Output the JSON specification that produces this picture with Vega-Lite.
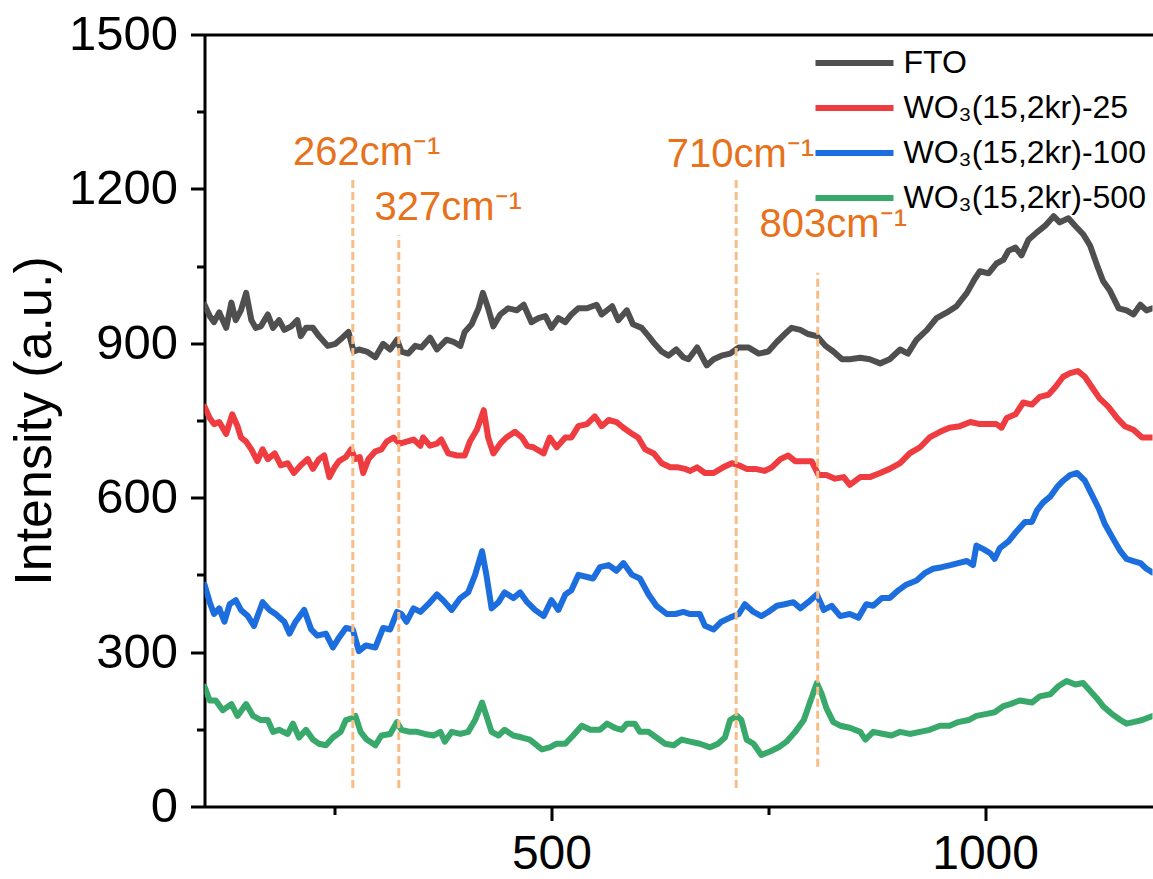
{
  "$schema": "https://vega.github.io/schema/vega-lite/v6.json",
  "width": 948,
  "height": 772,
  "autosize": {"type": "none"},
  "padding": {"left": 204.5, "top": 34.5, "right": 0.5, "bottom": 72.5},
  "background": "white",
  "config": {"view": {"stroke": null}, "font": "Liberation Sans"},
  "datasets": {
    "spectra": [
      {"s":"FTO","x":100,"y":975},{"s":"FTO","x":106,"y":953},{"s":"FTO","x":111,"y":941},{"s":"FTO","x":117,"y":960},{"s":"FTO","x":125,"y":930},{"s":"FTO","x":131,"y":979},{"s":"FTO","x":136,"y":945},{"s":"FTO","x":142,"y":964},{"s":"FTO","x":148,"y":998},{"s":"FTO","x":154,"y":945},{"s":"FTO","x":159,"y":930},{"s":"FTO","x":165,"y":933},{"s":"FTO","x":173,"y":956},{"s":"FTO","x":179,"y":930},{"s":"FTO","x":186,"y":945},{"s":"FTO","x":192,"y":926},{"s":"FTO","x":200,"y":933},{"s":"FTO","x":207,"y":945},{"s":"FTO","x":211,"y":914},{"s":"FTO","x":217,"y":930},{"s":"FTO","x":225,"y":930},{"s":"FTO","x":232,"y":914},{"s":"FTO","x":242,"y":895},{"s":"FTO","x":251,"y":899},{"s":"FTO","x":259,"y":911},{"s":"FTO","x":266,"y":922},{"s":"FTO","x":272,"y":884},{"s":"FTO","x":278,"y":888},{"s":"FTO","x":287,"y":884},{"s":"FTO","x":297,"y":873},{"s":"FTO","x":306,"y":899},{"s":"FTO","x":314,"y":888},{"s":"FTO","x":322,"y":907},{"s":"FTO","x":327,"y":884},{"s":"FTO","x":335,"y":880},{"s":"FTO","x":343,"y":895},{"s":"FTO","x":350,"y":892},{"s":"FTO","x":360,"y":911},{"s":"FTO","x":368,"y":888},{"s":"FTO","x":379,"y":907},{"s":"FTO","x":387,"y":903},{"s":"FTO","x":395,"y":895},{"s":"FTO","x":400,"y":922},{"s":"FTO","x":408,"y":937},{"s":"FTO","x":416,"y":968},{"s":"FTO","x":421,"y":998},{"s":"FTO","x":427,"y":968},{"s":"FTO","x":433,"y":933},{"s":"FTO","x":441,"y":956},{"s":"FTO","x":450,"y":968},{"s":"FTO","x":460,"y":964},{"s":"FTO","x":468,"y":975},{"s":"FTO","x":477,"y":941},{"s":"FTO","x":485,"y":949},{"s":"FTO","x":493,"y":953},{"s":"FTO","x":500,"y":930},{"s":"FTO","x":508,"y":949},{"s":"FTO","x":516,"y":941},{"s":"FTO","x":523,"y":956},{"s":"FTO","x":531,"y":968},{"s":"FTO","x":541,"y":968},{"s":"FTO","x":552,"y":975},{"s":"FTO","x":558,"y":956},{"s":"FTO","x":570,"y":972},{"s":"FTO","x":577,"y":945},{"s":"FTO","x":587,"y":964},{"s":"FTO","x":594,"y":937},{"s":"FTO","x":604,"y":930},{"s":"FTO","x":612,"y":914},{"s":"FTO","x":619,"y":899},{"s":"FTO","x":627,"y":884},{"s":"FTO","x":635,"y":876},{"s":"FTO","x":644,"y":888},{"s":"FTO","x":652,"y":873},{"s":"FTO","x":658,"y":869},{"s":"FTO","x":668,"y":892},{"s":"FTO","x":679,"y":857},{"s":"FTO","x":687,"y":869},{"s":"FTO","x":696,"y":876},{"s":"FTO","x":706,"y":880},{"s":"FTO","x":716,"y":892},{"s":"FTO","x":727,"y":892},{"s":"FTO","x":739,"y":880},{"s":"FTO","x":750,"y":884},{"s":"FTO","x":760,"y":903},{"s":"FTO","x":769,"y":918},{"s":"FTO","x":777,"y":930},{"s":"FTO","x":787,"y":926},{"s":"FTO","x":796,"y":918},{"s":"FTO","x":806,"y":914},{"s":"FTO","x":816,"y":895},{"s":"FTO","x":825,"y":884},{"s":"FTO","x":835,"y":869},{"s":"FTO","x":844,"y":869},{"s":"FTO","x":856,"y":872},{"s":"FTO","x":867,"y":869},{"s":"FTO","x":879,"y":861},{"s":"FTO","x":890,"y":869},{"s":"FTO","x":902,"y":888},{"s":"FTO","x":911,"y":880},{"s":"FTO","x":921,"y":907},{"s":"FTO","x":933,"y":926},{"s":"FTO","x":944,"y":949},{"s":"FTO","x":956,"y":960},{"s":"FTO","x":967,"y":972},{"s":"FTO","x":979,"y":998},{"s":"FTO","x":988,"y":1025},{"s":"FTO","x":994,"y":1040},{"s":"FTO","x":1004,"y":1036},{"s":"FTO","x":1013,"y":1055},{"s":"FTO","x":1021,"y":1062},{"s":"FTO","x":1027,"y":1080},{"s":"FTO","x":1035,"y":1086},{"s":"FTO","x":1042,"y":1071},{"s":"FTO","x":1050,"y":1101},{"s":"FTO","x":1060,"y":1116},{"s":"FTO","x":1069,"y":1128},{"s":"FTO","x":1079,"y":1147},{"s":"FTO","x":1086,"y":1135},{"s":"FTO","x":1096,"y":1143},{"s":"FTO","x":1104,"y":1128},{"s":"FTO","x":1113,"y":1112},{"s":"FTO","x":1121,"y":1090},{"s":"FTO","x":1129,"y":1052},{"s":"FTO","x":1136,"y":1021},{"s":"FTO","x":1144,"y":1002},{"s":"FTO","x":1154,"y":968},{"s":"FTO","x":1163,"y":964},{"s":"FTO","x":1171,"y":956},{"s":"FTO","x":1179,"y":975},{"s":"FTO","x":1186,"y":964},{"s":"FTO","x":1193,"y":968},

      {"s":"WO\u2083(15,2kr)-25","x":100,"y":777},{"s":"WO\u2083(15,2kr)-25","x":106,"y":755},{"s":"WO\u2083(15,2kr)-25","x":111,"y":743},{"s":"WO\u2083(15,2kr)-25","x":117,"y":747},{"s":"WO\u2083(15,2kr)-25","x":125,"y":724},{"s":"WO\u2083(15,2kr)-25","x":132,"y":762},{"s":"WO\u2083(15,2kr)-25","x":138,"y":739},{"s":"WO\u2083(15,2kr)-25","x":142,"y":717},{"s":"WO\u2083(15,2kr)-25","x":148,"y":709},{"s":"WO\u2083(15,2kr)-25","x":154,"y":694},{"s":"WO\u2083(15,2kr)-25","x":161,"y":671},{"s":"WO\u2083(15,2kr)-25","x":167,"y":694},{"s":"WO\u2083(15,2kr)-25","x":173,"y":675},{"s":"WO\u2083(15,2kr)-25","x":181,"y":686},{"s":"WO\u2083(15,2kr)-25","x":188,"y":663},{"s":"WO\u2083(15,2kr)-25","x":196,"y":667},{"s":"WO\u2083(15,2kr)-25","x":203,"y":648},{"s":"WO\u2083(15,2kr)-25","x":211,"y":663},{"s":"WO\u2083(15,2kr)-25","x":219,"y":675},{"s":"WO\u2083(15,2kr)-25","x":225,"y":656},{"s":"WO\u2083(15,2kr)-25","x":232,"y":675},{"s":"WO\u2083(15,2kr)-25","x":238,"y":682},{"s":"WO\u2083(15,2kr)-25","x":244,"y":640},{"s":"WO\u2083(15,2kr)-25","x":250,"y":659},{"s":"WO\u2083(15,2kr)-25","x":255,"y":671},{"s":"WO\u2083(15,2kr)-25","x":263,"y":679},{"s":"WO\u2083(15,2kr)-25","x":269,"y":694},{"s":"WO\u2083(15,2kr)-25","x":274,"y":675},{"s":"WO\u2083(15,2kr)-25","x":279,"y":679},{"s":"WO\u2083(15,2kr)-25","x":283,"y":648},{"s":"WO\u2083(15,2kr)-25","x":289,"y":675},{"s":"WO\u2083(15,2kr)-25","x":297,"y":690},{"s":"WO\u2083(15,2kr)-25","x":304,"y":694},{"s":"WO\u2083(15,2kr)-25","x":310,"y":709},{"s":"WO\u2083(15,2kr)-25","x":318,"y":717},{"s":"WO\u2083(15,2kr)-25","x":325,"y":705},{"s":"WO\u2083(15,2kr)-25","x":333,"y":709},{"s":"WO\u2083(15,2kr)-25","x":341,"y":713},{"s":"WO\u2083(15,2kr)-25","x":349,"y":701},{"s":"WO\u2083(15,2kr)-25","x":352,"y":717},{"s":"WO\u2083(15,2kr)-25","x":360,"y":701},{"s":"WO\u2083(15,2kr)-25","x":368,"y":705},{"s":"WO\u2083(15,2kr)-25","x":373,"y":713},{"s":"WO\u2083(15,2kr)-25","x":381,"y":686},{"s":"WO\u2083(15,2kr)-25","x":391,"y":682},{"s":"WO\u2083(15,2kr)-25","x":400,"y":682},{"s":"WO\u2083(15,2kr)-25","x":406,"y":709},{"s":"WO\u2083(15,2kr)-25","x":414,"y":732},{"s":"WO\u2083(15,2kr)-25","x":422,"y":770},{"s":"WO\u2083(15,2kr)-25","x":427,"y":717},{"s":"WO\u2083(15,2kr)-25","x":433,"y":686},{"s":"WO\u2083(15,2kr)-25","x":441,"y":705},{"s":"WO\u2083(15,2kr)-25","x":448,"y":717},{"s":"WO\u2083(15,2kr)-25","x":458,"y":728},{"s":"WO\u2083(15,2kr)-25","x":466,"y":717},{"s":"WO\u2083(15,2kr)-25","x":472,"y":701},{"s":"WO\u2083(15,2kr)-25","x":479,"y":698},{"s":"WO\u2083(15,2kr)-25","x":491,"y":686},{"s":"WO\u2083(15,2kr)-25","x":498,"y":717},{"s":"WO\u2083(15,2kr)-25","x":506,"y":698},{"s":"WO\u2083(15,2kr)-25","x":516,"y":717},{"s":"WO\u2083(15,2kr)-25","x":523,"y":717},{"s":"WO\u2083(15,2kr)-25","x":531,"y":739},{"s":"WO\u2083(15,2kr)-25","x":541,"y":743},{"s":"WO\u2083(15,2kr)-25","x":550,"y":758},{"s":"WO\u2083(15,2kr)-25","x":558,"y":739},{"s":"WO\u2083(15,2kr)-25","x":566,"y":751},{"s":"WO\u2083(15,2kr)-25","x":575,"y":747},{"s":"WO\u2083(15,2kr)-25","x":583,"y":736},{"s":"WO\u2083(15,2kr)-25","x":593,"y":724},{"s":"WO\u2083(15,2kr)-25","x":600,"y":717},{"s":"WO\u2083(15,2kr)-25","x":608,"y":694},{"s":"WO\u2083(15,2kr)-25","x":618,"y":686},{"s":"WO\u2083(15,2kr)-25","x":627,"y":667},{"s":"WO\u2083(15,2kr)-25","x":637,"y":659},{"s":"WO\u2083(15,2kr)-25","x":646,"y":659},{"s":"WO\u2083(15,2kr)-25","x":654,"y":656},{"s":"WO\u2083(15,2kr)-25","x":660,"y":652},{"s":"WO\u2083(15,2kr)-25","x":668,"y":659},{"s":"WO\u2083(15,2kr)-25","x":677,"y":648},{"s":"WO\u2083(15,2kr)-25","x":687,"y":648},{"s":"WO\u2083(15,2kr)-25","x":698,"y":659},{"s":"WO\u2083(15,2kr)-25","x":708,"y":667},{"s":"WO\u2083(15,2kr)-25","x":716,"y":663},{"s":"WO\u2083(15,2kr)-25","x":725,"y":656},{"s":"WO\u2083(15,2kr)-25","x":735,"y":656},{"s":"WO\u2083(15,2kr)-25","x":746,"y":652},{"s":"WO\u2083(15,2kr)-25","x":754,"y":659},{"s":"WO\u2083(15,2kr)-25","x":764,"y":675},{"s":"WO\u2083(15,2kr)-25","x":773,"y":682},{"s":"WO\u2083(15,2kr)-25","x":781,"y":671},{"s":"WO\u2083(15,2kr)-25","x":791,"y":671},{"s":"WO\u2083(15,2kr)-25","x":800,"y":671},{"s":"WO\u2083(15,2kr)-25","x":808,"y":644},{"s":"WO\u2083(15,2kr)-25","x":817,"y":644},{"s":"WO\u2083(15,2kr)-25","x":827,"y":637},{"s":"WO\u2083(15,2kr)-25","x":837,"y":640},{"s":"WO\u2083(15,2kr)-25","x":844,"y":625},{"s":"WO\u2083(15,2kr)-25","x":856,"y":640},{"s":"WO\u2083(15,2kr)-25","x":867,"y":640},{"s":"WO\u2083(15,2kr)-25","x":879,"y":648},{"s":"WO\u2083(15,2kr)-25","x":890,"y":656},{"s":"WO\u2083(15,2kr)-25","x":902,"y":667},{"s":"WO\u2083(15,2kr)-25","x":913,"y":686},{"s":"WO\u2083(15,2kr)-25","x":925,"y":698},{"s":"WO\u2083(15,2kr)-25","x":936,"y":717},{"s":"WO\u2083(15,2kr)-25","x":948,"y":728},{"s":"WO\u2083(15,2kr)-25","x":959,"y":736},{"s":"WO\u2083(15,2kr)-25","x":971,"y":739},{"s":"WO\u2083(15,2kr)-25","x":983,"y":747},{"s":"WO\u2083(15,2kr)-25","x":994,"y":743},{"s":"WO\u2083(15,2kr)-25","x":1004,"y":743},{"s":"WO\u2083(15,2kr)-25","x":1013,"y":743},{"s":"WO\u2083(15,2kr)-25","x":1019,"y":736},{"s":"WO\u2083(15,2kr)-25","x":1025,"y":755},{"s":"WO\u2083(15,2kr)-25","x":1035,"y":762},{"s":"WO\u2083(15,2kr)-25","x":1044,"y":785},{"s":"WO\u2083(15,2kr)-25","x":1054,"y":781},{"s":"WO\u2083(15,2kr)-25","x":1063,"y":796},{"s":"WO\u2083(15,2kr)-25","x":1073,"y":800},{"s":"WO\u2083(15,2kr)-25","x":1081,"y":815},{"s":"WO\u2083(15,2kr)-25","x":1090,"y":835},{"s":"WO\u2083(15,2kr)-25","x":1098,"y":842},{"s":"WO\u2083(15,2kr)-25","x":1107,"y":846},{"s":"WO\u2083(15,2kr)-25","x":1115,"y":835},{"s":"WO\u2083(15,2kr)-25","x":1123,"y":815},{"s":"WO\u2083(15,2kr)-25","x":1132,"y":793},{"s":"WO\u2083(15,2kr)-25","x":1142,"y":777},{"s":"WO\u2083(15,2kr)-25","x":1152,"y":755},{"s":"WO\u2083(15,2kr)-25","x":1161,"y":739},{"s":"WO\u2083(15,2kr)-25","x":1171,"y":732},{"s":"WO\u2083(15,2kr)-25","x":1181,"y":717},{"s":"WO\u2083(15,2kr)-25","x":1193,"y":717},

      {"s":"WO\u2083(15,2kr)-100","x":100,"y":431},{"s":"WO\u2083(15,2kr)-100","x":106,"y":397},{"s":"WO\u2083(15,2kr)-100","x":111,"y":374},{"s":"WO\u2083(15,2kr)-100","x":117,"y":385},{"s":"WO\u2083(15,2kr)-100","x":123,"y":359},{"s":"WO\u2083(15,2kr)-100","x":129,"y":393},{"s":"WO\u2083(15,2kr)-100","x":136,"y":401},{"s":"WO\u2083(15,2kr)-100","x":142,"y":382},{"s":"WO\u2083(15,2kr)-100","x":150,"y":370},{"s":"WO\u2083(15,2kr)-100","x":157,"y":351},{"s":"WO\u2083(15,2kr)-100","x":167,"y":397},{"s":"WO\u2083(15,2kr)-100","x":175,"y":382},{"s":"WO\u2083(15,2kr)-100","x":182,"y":374},{"s":"WO\u2083(15,2kr)-100","x":192,"y":359},{"s":"WO\u2083(15,2kr)-100","x":198,"y":336},{"s":"WO\u2083(15,2kr)-100","x":205,"y":359},{"s":"WO\u2083(15,2kr)-100","x":215,"y":382},{"s":"WO\u2083(15,2kr)-100","x":223,"y":344},{"s":"WO\u2083(15,2kr)-100","x":230,"y":332},{"s":"WO\u2083(15,2kr)-100","x":240,"y":336},{"s":"WO\u2083(15,2kr)-100","x":248,"y":309},{"s":"WO\u2083(15,2kr)-100","x":255,"y":328},{"s":"WO\u2083(15,2kr)-100","x":263,"y":347},{"s":"WO\u2083(15,2kr)-100","x":271,"y":344},{"s":"WO\u2083(15,2kr)-100","x":278,"y":302},{"s":"WO\u2083(15,2kr)-100","x":286,"y":313},{"s":"WO\u2083(15,2kr)-100","x":297,"y":309},{"s":"WO\u2083(15,2kr)-100","x":306,"y":347},{"s":"WO\u2083(15,2kr)-100","x":314,"y":344},{"s":"WO\u2083(15,2kr)-100","x":322,"y":378},{"s":"WO\u2083(15,2kr)-100","x":327,"y":374},{"s":"WO\u2083(15,2kr)-100","x":333,"y":359},{"s":"WO\u2083(15,2kr)-100","x":341,"y":385},{"s":"WO\u2083(15,2kr)-100","x":349,"y":378},{"s":"WO\u2083(15,2kr)-100","x":358,"y":393},{"s":"WO\u2083(15,2kr)-100","x":368,"y":412},{"s":"WO\u2083(15,2kr)-100","x":375,"y":401},{"s":"WO\u2083(15,2kr)-100","x":385,"y":382},{"s":"WO\u2083(15,2kr)-100","x":395,"y":405},{"s":"WO\u2083(15,2kr)-100","x":404,"y":416},{"s":"WO\u2083(15,2kr)-100","x":412,"y":450},{"s":"WO\u2083(15,2kr)-100","x":420,"y":496},{"s":"WO\u2083(15,2kr)-100","x":425,"y":450},{"s":"WO\u2083(15,2kr)-100","x":431,"y":385},{"s":"WO\u2083(15,2kr)-100","x":439,"y":397},{"s":"WO\u2083(15,2kr)-100","x":446,"y":416},{"s":"WO\u2083(15,2kr)-100","x":456,"y":405},{"s":"WO\u2083(15,2kr)-100","x":464,"y":416},{"s":"WO\u2083(15,2kr)-100","x":472,"y":397},{"s":"WO\u2083(15,2kr)-100","x":481,"y":382},{"s":"WO\u2083(15,2kr)-100","x":491,"y":370},{"s":"WO\u2083(15,2kr)-100","x":500,"y":401},{"s":"WO\u2083(15,2kr)-100","x":508,"y":382},{"s":"WO\u2083(15,2kr)-100","x":516,"y":412},{"s":"WO\u2083(15,2kr)-100","x":523,"y":420},{"s":"WO\u2083(15,2kr)-100","x":531,"y":450},{"s":"WO\u2083(15,2kr)-100","x":541,"y":446},{"s":"WO\u2083(15,2kr)-100","x":548,"y":443},{"s":"WO\u2083(15,2kr)-100","x":556,"y":465},{"s":"WO\u2083(15,2kr)-100","x":566,"y":469},{"s":"WO\u2083(15,2kr)-100","x":575,"y":458},{"s":"WO\u2083(15,2kr)-100","x":583,"y":473},{"s":"WO\u2083(15,2kr)-100","x":593,"y":450},{"s":"WO\u2083(15,2kr)-100","x":602,"y":443},{"s":"WO\u2083(15,2kr)-100","x":612,"y":412},{"s":"WO\u2083(15,2kr)-100","x":621,"y":390},{"s":"WO\u2083(15,2kr)-100","x":633,"y":374},{"s":"WO\u2083(15,2kr)-100","x":643,"y":374},{"s":"WO\u2083(15,2kr)-100","x":652,"y":378},{"s":"WO\u2083(15,2kr)-100","x":660,"y":374},{"s":"WO\u2083(15,2kr)-100","x":671,"y":374},{"s":"WO\u2083(15,2kr)-100","x":677,"y":351},{"s":"WO\u2083(15,2kr)-100","x":687,"y":344},{"s":"WO\u2083(15,2kr)-100","x":696,"y":359},{"s":"WO\u2083(15,2kr)-100","x":706,"y":367},{"s":"WO\u2083(15,2kr)-100","x":716,"y":374},{"s":"WO\u2083(15,2kr)-100","x":723,"y":393},{"s":"WO\u2083(15,2kr)-100","x":733,"y":378},{"s":"WO\u2083(15,2kr)-100","x":742,"y":370},{"s":"WO\u2083(15,2kr)-100","x":750,"y":378},{"s":"WO\u2083(15,2kr)-100","x":760,"y":390},{"s":"WO\u2083(15,2kr)-100","x":769,"y":393},{"s":"WO\u2083(15,2kr)-100","x":779,"y":397},{"s":"WO\u2083(15,2kr)-100","x":787,"y":385},{"s":"WO\u2083(15,2kr)-100","x":796,"y":397},{"s":"WO\u2083(15,2kr)-100","x":806,"y":412},{"s":"WO\u2083(15,2kr)-100","x":814,"y":382},{"s":"WO\u2083(15,2kr)-100","x":823,"y":390},{"s":"WO\u2083(15,2kr)-100","x":833,"y":370},{"s":"WO\u2083(15,2kr)-100","x":844,"y":374},{"s":"WO\u2083(15,2kr)-100","x":854,"y":367},{"s":"WO\u2083(15,2kr)-100","x":863,"y":393},{"s":"WO\u2083(15,2kr)-100","x":871,"y":390},{"s":"WO\u2083(15,2kr)-100","x":881,"y":405},{"s":"WO\u2083(15,2kr)-100","x":890,"y":405},{"s":"WO\u2083(15,2kr)-100","x":900,"y":420},{"s":"WO\u2083(15,2kr)-100","x":909,"y":431},{"s":"WO\u2083(15,2kr)-100","x":921,"y":439},{"s":"WO\u2083(15,2kr)-100","x":931,"y":454},{"s":"WO\u2083(15,2kr)-100","x":940,"y":462},{"s":"WO\u2083(15,2kr)-100","x":950,"y":465},{"s":"WO\u2083(15,2kr)-100","x":960,"y":469},{"s":"WO\u2083(15,2kr)-100","x":969,"y":473},{"s":"WO\u2083(15,2kr)-100","x":979,"y":477},{"s":"WO\u2083(15,2kr)-100","x":986,"y":469},{"s":"WO\u2083(15,2kr)-100","x":990,"y":507},{"s":"WO\u2083(15,2kr)-100","x":998,"y":500},{"s":"WO\u2083(15,2kr)-100","x":1006,"y":492},{"s":"WO\u2083(15,2kr)-100","x":1011,"y":481},{"s":"WO\u2083(15,2kr)-100","x":1017,"y":502},{"s":"WO\u2083(15,2kr)-100","x":1027,"y":515},{"s":"WO\u2083(15,2kr)-100","x":1036,"y":534},{"s":"WO\u2083(15,2kr)-100","x":1046,"y":553},{"s":"WO\u2083(15,2kr)-100","x":1054,"y":553},{"s":"WO\u2083(15,2kr)-100","x":1060,"y":576},{"s":"WO\u2083(15,2kr)-100","x":1067,"y":591},{"s":"WO\u2083(15,2kr)-100","x":1075,"y":602},{"s":"WO\u2083(15,2kr)-100","x":1083,"y":621},{"s":"WO\u2083(15,2kr)-100","x":1090,"y":633},{"s":"WO\u2083(15,2kr)-100","x":1098,"y":644},{"s":"WO\u2083(15,2kr)-100","x":1106,"y":648},{"s":"WO\u2083(15,2kr)-100","x":1115,"y":633},{"s":"WO\u2083(15,2kr)-100","x":1123,"y":606},{"s":"WO\u2083(15,2kr)-100","x":1131,"y":579},{"s":"WO\u2083(15,2kr)-100","x":1138,"y":549},{"s":"WO\u2083(15,2kr)-100","x":1148,"y":519},{"s":"WO\u2083(15,2kr)-100","x":1156,"y":496},{"s":"WO\u2083(15,2kr)-100","x":1163,"y":481},{"s":"WO\u2083(15,2kr)-100","x":1171,"y":477},{"s":"WO\u2083(15,2kr)-100","x":1179,"y":473},{"s":"WO\u2083(15,2kr)-100","x":1186,"y":462},{"s":"WO\u2083(15,2kr)-100","x":1193,"y":455},

      {"s":"WO\u2083(15,2kr)-500","x":100,"y":233},{"s":"WO\u2083(15,2kr)-500","x":106,"y":206},{"s":"WO\u2083(15,2kr)-500","x":113,"y":206},{"s":"WO\u2083(15,2kr)-500","x":121,"y":187},{"s":"WO\u2083(15,2kr)-500","x":131,"y":199},{"s":"WO\u2083(15,2kr)-500","x":138,"y":176},{"s":"WO\u2083(15,2kr)-500","x":148,"y":199},{"s":"WO\u2083(15,2kr)-500","x":156,"y":176},{"s":"WO\u2083(15,2kr)-500","x":165,"y":168},{"s":"WO\u2083(15,2kr)-500","x":173,"y":168},{"s":"WO\u2083(15,2kr)-500","x":179,"y":145},{"s":"WO\u2083(15,2kr)-500","x":186,"y":149},{"s":"WO\u2083(15,2kr)-500","x":196,"y":141},{"s":"WO\u2083(15,2kr)-500","x":202,"y":161},{"s":"WO\u2083(15,2kr)-500","x":209,"y":134},{"s":"WO\u2083(15,2kr)-500","x":217,"y":149},{"s":"WO\u2083(15,2kr)-500","x":225,"y":130},{"s":"WO\u2083(15,2kr)-500","x":232,"y":122},{"s":"WO\u2083(15,2kr)-500","x":240,"y":119},{"s":"WO\u2083(15,2kr)-500","x":248,"y":134},{"s":"WO\u2083(15,2kr)-500","x":257,"y":145},{"s":"WO\u2083(15,2kr)-500","x":263,"y":168},{"s":"WO\u2083(15,2kr)-500","x":271,"y":172},{"s":"WO\u2083(15,2kr)-500","x":274,"y":176},{"s":"WO\u2083(15,2kr)-500","x":280,"y":145},{"s":"WO\u2083(15,2kr)-500","x":287,"y":130},{"s":"WO\u2083(15,2kr)-500","x":297,"y":119},{"s":"WO\u2083(15,2kr)-500","x":304,"y":138},{"s":"WO\u2083(15,2kr)-500","x":314,"y":141},{"s":"WO\u2083(15,2kr)-500","x":322,"y":164},{"s":"WO\u2083(15,2kr)-500","x":327,"y":149},{"s":"WO\u2083(15,2kr)-500","x":337,"y":145},{"s":"WO\u2083(15,2kr)-500","x":345,"y":145},{"s":"WO\u2083(15,2kr)-500","x":354,"y":141},{"s":"WO\u2083(15,2kr)-500","x":364,"y":138},{"s":"WO\u2083(15,2kr)-500","x":372,"y":145},{"s":"WO\u2083(15,2kr)-500","x":377,"y":126},{"s":"WO\u2083(15,2kr)-500","x":385,"y":145},{"s":"WO\u2083(15,2kr)-500","x":395,"y":141},{"s":"WO\u2083(15,2kr)-500","x":404,"y":145},{"s":"WO\u2083(15,2kr)-500","x":412,"y":168},{"s":"WO\u2083(15,2kr)-500","x":420,"y":202},{"s":"WO\u2083(15,2kr)-500","x":425,"y":176},{"s":"WO\u2083(15,2kr)-500","x":431,"y":145},{"s":"WO\u2083(15,2kr)-500","x":439,"y":138},{"s":"WO\u2083(15,2kr)-500","x":446,"y":149},{"s":"WO\u2083(15,2kr)-500","x":456,"y":138},{"s":"WO\u2083(15,2kr)-500","x":466,"y":134},{"s":"WO\u2083(15,2kr)-500","x":475,"y":130},{"s":"WO\u2083(15,2kr)-500","x":489,"y":111},{"s":"WO\u2083(15,2kr)-500","x":498,"y":115},{"s":"WO\u2083(15,2kr)-500","x":506,"y":122},{"s":"WO\u2083(15,2kr)-500","x":516,"y":122},{"s":"WO\u2083(15,2kr)-500","x":525,"y":138},{"s":"WO\u2083(15,2kr)-500","x":535,"y":157},{"s":"WO\u2083(15,2kr)-500","x":545,"y":149},{"s":"WO\u2083(15,2kr)-500","x":556,"y":149},{"s":"WO\u2083(15,2kr)-500","x":564,"y":161},{"s":"WO\u2083(15,2kr)-500","x":573,"y":153},{"s":"WO\u2083(15,2kr)-500","x":581,"y":149},{"s":"WO\u2083(15,2kr)-500","x":587,"y":161},{"s":"WO\u2083(15,2kr)-500","x":596,"y":161},{"s":"WO\u2083(15,2kr)-500","x":602,"y":145},{"s":"WO\u2083(15,2kr)-500","x":612,"y":145},{"s":"WO\u2083(15,2kr)-500","x":621,"y":134},{"s":"WO\u2083(15,2kr)-500","x":631,"y":122},{"s":"WO\u2083(15,2kr)-500","x":641,"y":119},{"s":"WO\u2083(15,2kr)-500","x":650,"y":130},{"s":"WO\u2083(15,2kr)-500","x":660,"y":126},{"s":"WO\u2083(15,2kr)-500","x":671,"y":122},{"s":"WO\u2083(15,2kr)-500","x":683,"y":115},{"s":"WO\u2083(15,2kr)-500","x":692,"y":122},{"s":"WO\u2083(15,2kr)-500","x":700,"y":134},{"s":"WO\u2083(15,2kr)-500","x":706,"y":168},{"s":"WO\u2083(15,2kr)-500","x":714,"y":176},{"s":"WO\u2083(15,2kr)-500","x":719,"y":168},{"s":"WO\u2083(15,2kr)-500","x":725,"y":130},{"s":"WO\u2083(15,2kr)-500","x":733,"y":122},{"s":"WO\u2083(15,2kr)-500","x":742,"y":100},{"s":"WO\u2083(15,2kr)-500","x":752,"y":107},{"s":"WO\u2083(15,2kr)-500","x":762,"y":115},{"s":"WO\u2083(15,2kr)-500","x":771,"y":126},{"s":"WO\u2083(15,2kr)-500","x":781,"y":145},{"s":"WO\u2083(15,2kr)-500","x":791,"y":168},{"s":"WO\u2083(15,2kr)-500","x":798,"y":202},{"s":"WO\u2083(15,2kr)-500","x":806,"y":240},{"s":"WO\u2083(15,2kr)-500","x":812,"y":217},{"s":"WO\u2083(15,2kr)-500","x":817,"y":191},{"s":"WO\u2083(15,2kr)-500","x":825,"y":164},{"s":"WO\u2083(15,2kr)-500","x":833,"y":157},{"s":"WO\u2083(15,2kr)-500","x":844,"y":153},{"s":"WO\u2083(15,2kr)-500","x":856,"y":145},{"s":"WO\u2083(15,2kr)-500","x":862,"y":130},{"s":"WO\u2083(15,2kr)-500","x":871,"y":145},{"s":"WO\u2083(15,2kr)-500","x":883,"y":141},{"s":"WO\u2083(15,2kr)-500","x":892,"y":138},{"s":"WO\u2083(15,2kr)-500","x":902,"y":145},{"s":"WO\u2083(15,2kr)-500","x":913,"y":141},{"s":"WO\u2083(15,2kr)-500","x":925,"y":145},{"s":"WO\u2083(15,2kr)-500","x":936,"y":149},{"s":"WO\u2083(15,2kr)-500","x":948,"y":157},{"s":"WO\u2083(15,2kr)-500","x":959,"y":157},{"s":"WO\u2083(15,2kr)-500","x":969,"y":164},{"s":"WO\u2083(15,2kr)-500","x":981,"y":168},{"s":"WO\u2083(15,2kr)-500","x":990,"y":176},{"s":"WO\u2083(15,2kr)-500","x":1002,"y":180},{"s":"WO\u2083(15,2kr)-500","x":1011,"y":183},{"s":"WO\u2083(15,2kr)-500","x":1021,"y":195},{"s":"WO\u2083(15,2kr)-500","x":1029,"y":199},{"s":"WO\u2083(15,2kr)-500","x":1040,"y":206},{"s":"WO\u2083(15,2kr)-500","x":1054,"y":202},{"s":"WO\u2083(15,2kr)-500","x":1063,"y":214},{"s":"WO\u2083(15,2kr)-500","x":1075,"y":218},{"s":"WO\u2083(15,2kr)-500","x":1084,"y":233},{"s":"WO\u2083(15,2kr)-500","x":1094,"y":244},{"s":"WO\u2083(15,2kr)-500","x":1104,"y":237},{"s":"WO\u2083(15,2kr)-500","x":1113,"y":240},{"s":"WO\u2083(15,2kr)-500","x":1121,"y":225},{"s":"WO\u2083(15,2kr)-500","x":1129,"y":210},{"s":"WO\u2083(15,2kr)-500","x":1136,"y":195},{"s":"WO\u2083(15,2kr)-500","x":1146,"y":180},{"s":"WO\u2083(15,2kr)-500","x":1156,"y":168},{"s":"WO\u2083(15,2kr)-500","x":1163,"y":161},{"s":"WO\u2083(15,2kr)-500","x":1171,"y":164},{"s":"WO\u2083(15,2kr)-500","x":1181,"y":168},{"s":"WO\u2083(15,2kr)-500","x":1193,"y":176}
    ],
    "peaks": [
      {"lab": "262cm\u207b\u00b9", "x": 271, "y": 36, "y2": 1221, "tx": 202, "ty": 1246},
      {"lab": "327cm\u207b\u00b9", "x": 324, "y": 36, "y2": 1110, "tx": 296, "ty": 1139},
      {"lab": "710cm\u207b\u00b9", "x": 713, "y": 36, "y2": 1221, "tx": 633, "ty": 1242},
      {"lab": "803cm\u207b\u00b9", "x": 807, "y": 77, "y2": 1037, "tx": 740, "ty": 1107}
    ]
  },
  "layer": [
    {
      "data": {"name": "spectra"},
      "mark": {"type": "line", "strokeWidth": 6, "strokeJoin": "round", "strokeCap": "round", "clip": true},
      "encoding": {
        "x": {
          "field": "x", "type": "quantitative",
          "scale": {"domain": [100, 1193], "nice": false, "zero": false},
          "axis": {
            "orient": "bottom", "values": [250, 500, 750, 1000], "format": "d",
            "labelExpr": "datum.value % 500 === 0 ? datum.label : ''",
            "tickSize": {"condition": {"test": "datum.value % 500 === 0", "value": 14}, "value": 8},
            "tickWidth": 3, "tickColor": "black", "domainWidth": 3, "domainColor": "black",
            "labelFontSize": 48, "labelColor": "black", "labelPadding": 10, "labelFont": "Liberation Sans",
            "labelFlush": false, "labelOverlap": false, "grid": false, "title": null
          }
        },
        "y": {
          "field": "y", "type": "quantitative",
          "scale": {"domain": [0, 1500], "nice": false, "zero": false},
          "axis": {
            "values": [0, 150, 300, 450, 600, 750, 900, 1050, 1200, 1350, 1500], "format": "d",
            "labelExpr": "datum.value % 300 === 0 ? datum.label : ''",
            "tickSize": {"condition": {"test": "datum.value % 300 === 0", "value": 14}, "value": 8},
            "tickWidth": 3, "tickColor": "black", "domainWidth": 3, "domainColor": "black",
            "labelFontSize": 49, "labelColor": "black", "labelPadding": 13, "labelFont": "Liberation Sans",
            "labelFlush": false, "labelOverlap": false, "grid": false,
            "title": "Intensity (a.u.)", "titleFontSize": 52, "titleFontWeight": "normal", "titleColor": "black",
            "titleFont": "Liberation Sans", "titleAngle": -90, "titleX": -154, "titleY": 386,
            "titleAlign": "center", "titleBaseline": "alphabetic"
          }
        },
        "color": {
          "field": "s", "type": "nominal",
          "scale": {
            "domain": ["FTO", "WO\u2083(15,2kr)-25", "WO\u2083(15,2kr)-100", "WO\u2083(15,2kr)-500"],
            "range": ["#4f4f4f", "#ef3c40", "#1c6edf", "#38a96a"]
          },
          "legend": {
            "title": null, "orient": "none", "legendX": 608, "legendY": 10.5,
            "symbolType": "stroke", "symbolSize": 6084, "symbolStrokeWidth": 6,
            "labelFontSize": 32, "labelFont": "Liberation Sans", "labelColor": "black",
            "clipHeight": 36, "rowPadding": 9, "labelOffset": 7, "padding": 0, "labelLimit": 400
          }
        }
      }
    },
    {
      "data": {"name": "peaks"},
      "mark": {"type": "rule", "strokeDash": [8, 4], "strokeWidth": 3, "color": "#f6bd88"},
      "encoding": {
        "x": {"field": "x", "type": "quantitative",
          "axis": {"orient": "top", "domainWidth": 3, "domainColor": "black", "ticks": false, "labels": false, "title": null, "grid": false}},
        "y": {"field": "y", "type": "quantitative"},
        "y2": {"field": "y2"}
      }
    },
    {
      "data": {"name": "peaks"},
      "mark": {"type": "text", "align": "left", "baseline": "alphabetic", "fontSize": 40, "color": "#e8721c", "font": "Liberation Sans"},
      "encoding": {
        "x": {"field": "tx", "type": "quantitative", "axis": null},
        "y": {"field": "ty", "type": "quantitative"},
        "text": {"field": "lab"}
      }
    }
  ],
  "resolve": {"axis": {"x": "independent"}}
}
